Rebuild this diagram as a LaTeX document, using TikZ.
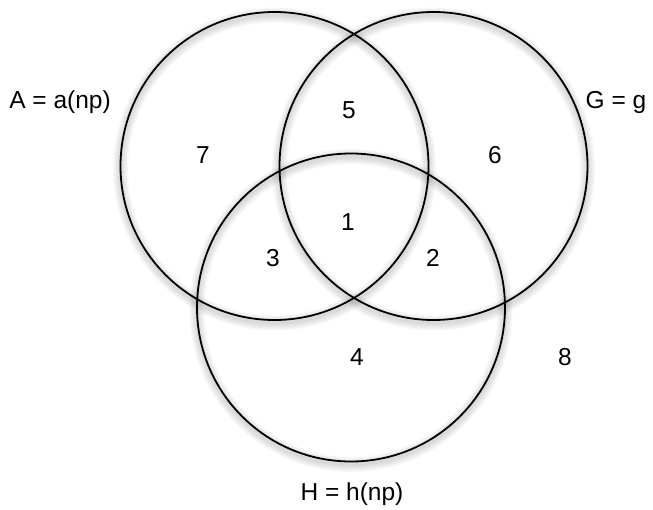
\documentclass[tikz,border=0pt]{standalone}
\usepackage{fontspec}
\setmainfont{Liberation Sans}
\begin{document}
\begin{tikzpicture}[x=1pt,y=-1pt,
  lbl/.style={inner sep=0pt,anchor=base,font=\fontsize{24.5}{29}\selectfont},
  ring/.style={draw=black,line width=1.8pt,circle,minimum size=308pt,inner sep=0pt},
  glow/.style={draw=black,circle,minimum size=308pt,inner sep=0pt,draw opacity=0.03}]
\useasboundingbox (0,0) rectangle (653,509);
% soft shadows
\foreach \cx/\cy in {274.5/166,433.5/166,351/307.5}{
  \foreach \w in {3,6,9,12,15}{
    \node[glow,line width=\w pt] at (\cx,\cy+3) {};
  }
}
\node[ring] (A) at (274.5,166) {};
\node[ring] (G) at (433.5,166) {};
\node[ring] (H) at (351,307.5) {};
\node[lbl] (la) at (60,108) {A = a(np)};
\node[lbl] (lg) at (616,108) {G = g};
\node[lbl] (lh) at (352,500) {H = h(np)};
\node[lbl] (n7) at (203,163) {7};
\node[lbl] (n5) at (349,118) {5};
\node[lbl] (n6) at (495,163) {6};
\node[lbl] (n1) at (348,230) {1};
\node[lbl] (n3) at (273,266) {3};
\node[lbl] (n2) at (433,266) {2};
\node[lbl] (n4) at (357,365) {4};
\node[lbl] (n8) at (565,365) {8};
\end{tikzpicture}
\end{document}
